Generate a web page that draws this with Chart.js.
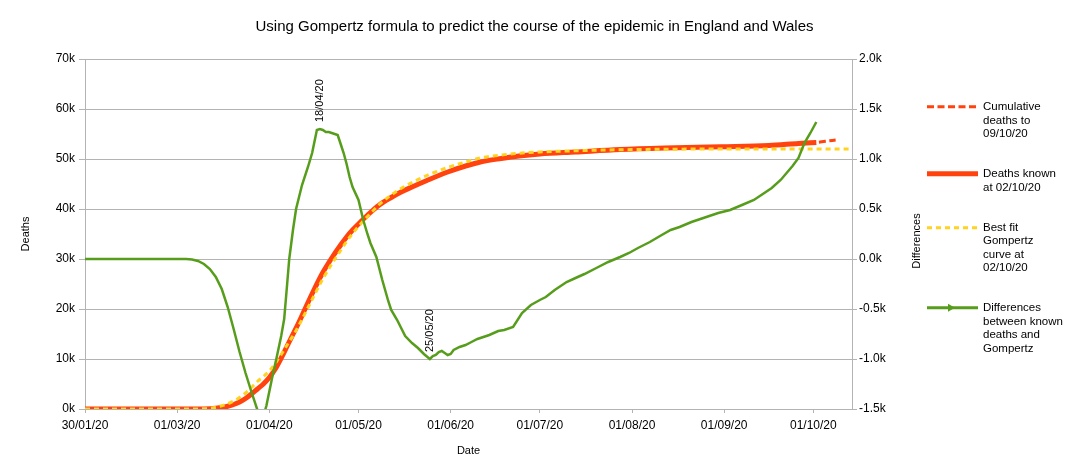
<!DOCTYPE html>
<html>
<head>
<meta charset="utf-8">
<title>Gompertz England and Wales</title>
<script src="https://cdn.jsdelivr.net/npm/chart.js@4"></script>
<style>
	html, body { margin: 0; padding: 0; background: #fff; }
	#wrap { position: relative; width: 1069px; height: 468px; }
	#legend {
		position: absolute; left: 927px; top: 100px;
		font: 11.5px "Liberation Sans", Arial, sans-serif; color: #000; line-height: 13.5px;
		display: flex; flex-direction: column; gap: 26.5px;
	}
	.item { display: flex; align-items: flex-start; }
	.item svg { flex: none; width: 51px; height: 13.5px; margin-right: 5px; }
</style>
</head>
<body>
<div id="wrap">
	<canvas id="chart" width="1069" height="468"></canvas>
	<div id="legend"></div>
</div>
<script>
const titleText = 'Using Gompertz formula to predict the course of the epidemic in England and Wales';

// x axis: days since 30/01/20
const tickDays = [0, 31, 62, 92, 123, 153, 184, 215, 245];
const tickLabels = ['30/01/20', '01/03/20', '01/04/20', '01/05/20', '01/06/20', '01/07/20', '01/08/20', '01/09/20', '01/10/20'];

// Deaths known at 02/10/20
const knownDays = [0, 38, 40, 42, 44, 46, 48, 50, 52, 54,
	56, 58, 60, 62, 64, 66, 68, 70, 72, 74,
	77, 80, 83, 86, 88, 90, 93, 96, 99, 103,
	106, 110, 115, 122, 128, 133, 140, 146, 153, 165,
	180, 195, 214, 230, 240, 246];
const knownDeaths = [0, 0, 20, 60, 150, 300, 550, 900, 1400, 2100,
	3000, 4000, 5000, 6300, 8000, 10200, 12600, 15000, 17400, 20000,
	23800, 27300, 30200, 32800, 34400, 35800, 37600, 39300, 40800, 42300,
	43300, 44400, 45700, 47400, 48600, 49400, 50100, 50600, 51000, 51400,
	51900, 52200, 52450, 52700, 53100, 53300];

// Cumulative deaths to 09/10/20
const cumDays = [0, 38, 40, 42, 44, 46, 48, 50, 52, 54,
	56, 58, 60, 62, 64, 66, 68, 70, 72, 74,
	77, 80, 83, 86, 88, 90, 93, 96, 99, 103,
	106, 110, 115, 122, 128, 133, 140, 146, 153, 165,
	180, 195, 214, 230, 240, 246, 249, 252.5];
const cumDeaths = [0, 0, 20, 60, 150, 300, 550, 900, 1400, 2100,
	3000, 4000, 5000, 6300, 8000, 10200, 12600, 15000, 17400, 20000,
	23800, 27300, 30200, 32800, 34400, 35800, 37600, 39300, 40800, 42300,
	43300, 44400, 45700, 47400, 48600, 49400, 50100, 50600, 51000, 51400,
	51900, 52200, 52450, 52700, 53100, 53300, 53550, 53800];

// Best fit Gompertz curve at 02/10/20
const gompDays = [0, 35, 38, 40, 42, 44, 46, 48, 50, 52,
	54, 56, 58, 60, 62, 64, 66, 68, 70, 72,
	74, 77, 80, 83, 86, 88, 90, 93, 96, 99,
	103, 106, 110, 115, 122, 128, 133, 140, 146, 153,
	165, 180, 195, 214, 258];
const gompDeaths = [0, 0, 10, 50, 160, 350, 650, 1050, 1600, 2300,
	3200, 4300, 5500, 6500, 7600, 9100, 10900, 12800, 14700, 16800,
	19100, 22600, 26000, 29000, 31700, 33500, 35100, 37200, 39100, 40900,
	42800, 44000, 45300, 46700, 48300, 49400, 50200, 50800, 51150, 51400,
	51650, 51850, 51950, 52000, 52000];

// Differences between known deaths and Gompertz (right axis)
const diffDays = [0, 34, 36, 38, 40, 42, 44, 46, 48, 50,
	52, 54, 56, 58, 59.5, 61, 63, 64.5, 66, 67,
	68, 68.7, 70, 71, 73, 75, 76.4, 78, 79, 80,
	81, 82, 83, 84, 85, 86, 87, 88, 89, 90,
	92, 93.6, 95, 96, 98, 100, 102, 103, 105, 107.7,
	110, 112, 114, 116, 117, 118, 119, 120, 121, 122,
	123, 124, 126, 128, 130, 132, 134, 136, 139, 141,
	144, 147, 150, 153, 155, 158, 162, 165, 168, 172,
	176, 180, 183, 186, 190, 194, 197, 200, 204, 209,
	213, 217, 221, 225, 228, 231, 234, 236, 238, 240,
	242, 244, 246];
const diffValues = [0, 0, -5, -20, -50, -100, -180, -300, -480, -700,
	-930, -1140, -1330, -1510, -1620, -1470, -1180, -980, -770, -600,
	-250, 0, 300, 500, 740, 920, 1060, 1290, 1300, 1290,
	1270, 1270, 1260, 1250, 1240, 1150, 1060, 950, 820, 720,
	590, 390, 250, 160, 20, -210, -420, -510, -610, -770,
	-840, -890, -950, -1000, -970, -960, -930, -920, -940, -960,
	-950, -910, -880, -860, -830, -800, -780, -760, -720, -710,
	-680, -540, -460, -410, -380, -310, -230, -190, -150, -90,
	-30, 20, 60, 110, 170, 240, 290, 320, 370, 420,
	460, 490, 540, 590, 650, 710, 790, 860, 930, 1010,
	1160, 1260, 1370];

const noteDays = [79, 116];
const noteLabels = ['18/04/20', '25/05/20'];

const seriesNames = [
	['Cumulative', 'deaths to', '09/10/20'],
	['Deaths known', 'at 02/10/20'],
	['Best fit', 'Gompertz', 'curve at', '02/10/20'],
	['Differences', 'between known', 'deaths and', 'Gompertz']
];

const RED = '#ff420e';
const YELLOW = '#ffd320';
const GREEN = '#579d1c';
const GRID = '#b3b3b3';
const FONT = '"Liberation Sans", Arial, sans-serif';

function toPoints(days, vals) {
	return days.map((d, i) => ({ x: d, y: vals[i] }));
}

const extraText = {
	id: 'extraText',
	afterDatasetsDraw(chart) {
		const { ctx, scales } = chart;
		ctx.save();
		ctx.font = '11px ' + FONT;
		ctx.fillStyle = '#000';
		ctx.textAlign = 'left';
		ctx.textBaseline = 'middle';
		noteDays.forEach((d, i) => {
			const v = diffValues[diffDays.indexOf(d)];
			const x = scales.x.getPixelForValue(d);
			const y = scales.y2.getPixelForValue(v);
			ctx.save();
			ctx.translate(x, y - 7);
			ctx.rotate(-Math.PI / 2);
			ctx.fillText(noteLabels[i], 0, 0);
			ctx.restore();
		});
		// right axis title reads bottom to top like the left one
		const r = scales.y2;
		ctx.translate(r.left + 64.5, (r.top + r.bottom) / 2 + 7);
		ctx.rotate(-Math.PI / 2);
		ctx.textAlign = 'center';
		ctx.fillText('Differences', 0, 0);
		ctx.restore();
	}
};

function buildLegend() {
	const samples = [
		`<line x1="0" y1="6.75" x2="51" y2="6.75" stroke="${RED}" stroke-width="3" stroke-dasharray="7 3.5"/>`,
		`<line x1="0" y1="6.75" x2="51" y2="6.75" stroke="${RED}" stroke-width="5"/>`,
		`<line x1="0" y1="6.75" x2="51" y2="6.75" stroke="${YELLOW}" stroke-width="3" stroke-dasharray="5 4"/>`,
		`<line x1="0" y1="6.75" x2="51" y2="6.75" stroke="${GREEN}" stroke-width="3"/><polygon points="21,2.75 28,6.75 21,10.75" fill="${GREEN}"/>`
	];
	const legend = document.getElementById('legend');
	seriesNames.forEach((lines, i) => {
		const item = document.createElement('div');
		item.className = 'item';
		item.innerHTML = `<svg viewBox="0 0 51 13.5">${samples[i]}</svg><div>${lines.join('<br>')}</div>`;
		legend.appendChild(item);
	});
}

function init() {
	Chart.defaults.font.family = FONT;
	Chart.defaults.color = '#000';
	const ctx = document.getElementById('chart').getContext('2d');
	new Chart(ctx, {
		type: 'line',
		data: {
			datasets: [
				{
					label: 'Cumulative deaths to 09/10/20',
					data: toPoints(cumDays, cumDeaths),
					yAxisID: 'y',
					borderColor: RED,
					borderWidth: 3,
					borderDash: [7, 3.5],
					cubicInterpolationMode: 'monotone',
					order: 3
				},
				{
					label: 'Deaths known at 02/10/20',
					data: toPoints(knownDays, knownDeaths),
					yAxisID: 'y',
					borderColor: RED,
					borderWidth: 5,
					cubicInterpolationMode: 'monotone',
					order: 2
				},
				{
					label: 'Best fit Gompertz curve at 02/10/20',
					data: toPoints(gompDays, gompDeaths),
					yAxisID: 'y',
					borderColor: YELLOW,
					borderWidth: 3,
					borderDash: [5, 4],
					cubicInterpolationMode: 'monotone',
					order: 1
				},
				{
					label: 'Differences between known deaths and Gompertz',
					data: toPoints(diffDays, diffValues),
					yAxisID: 'y2',
					borderColor: GREEN,
					borderWidth: 2.5,
					tension: 0,
					order: 0
				}
			]
		},
		options: {
			responsive: false,
			animation: false,
			elements: { point: { radius: 0 } },
			layout: { padding: 0 },
			plugins: {
				legend: { display: false },
				tooltip: { enabled: false },
				title: {
					display: true,
					text: titleText,
					color: '#000',
					font: { size: 15, weight: 'normal' },
					padding: { top: 18, bottom: 23 }
				}
			},
			scales: {
				x: {
					type: 'linear',
					min: 0,
					max: 258,
					afterBuildTicks: (scale) => {
						scale.ticks = tickDays.map(v => ({ value: v }));
					},
					afterFit: (scale) => { scale.height = 59; },
					ticks: {
						autoSkip: false,
						maxRotation: 0,
						padding: 5,
						font: { size: 12 },
						callback: (v) => tickLabels[tickDays.indexOf(v)]
					},
					grid: { drawOnChartArea: false, tickLength: 4, color: GRID },
					border: { color: GRID },
					title: { display: true, text: 'Date', font: { size: 11 }, padding: { top: 0, bottom: 10 } }
				},
				y: {
					position: 'left',
					min: 0,
					max: 70000,
					afterFit: (scale) => { scale.width = 85; },
					ticks: {
						stepSize: 10000,
						padding: 4,
						font: { size: 12 },
						callback: (v) => (v / 1000) + 'k'
					},
					grid: { color: GRID, tickLength: 6 },
					border: { color: GRID },
					title: { display: true, text: 'Deaths', font: { size: 11 }, padding: { top: 19, bottom: 0 } }
				},
				y2: {
					position: 'right',
					min: -1500,
					max: 2000,
					afterFit: (scale) => { scale.width = 217; },
					ticks: {
						stepSize: 500,
						padding: 2,
						font: { size: 12 },
						callback: (v) => (v / 1000).toFixed(1) + 'k'
					},
					grid: { drawOnChartArea: false, color: GRID, tickLength: 5 },
					border: { color: GRID }
				}
			}
		},
		plugins: [extraText]
	});
	buildLegend();
}

document.addEventListener('DOMContentLoaded', init);
</script>
</body>
</html>
